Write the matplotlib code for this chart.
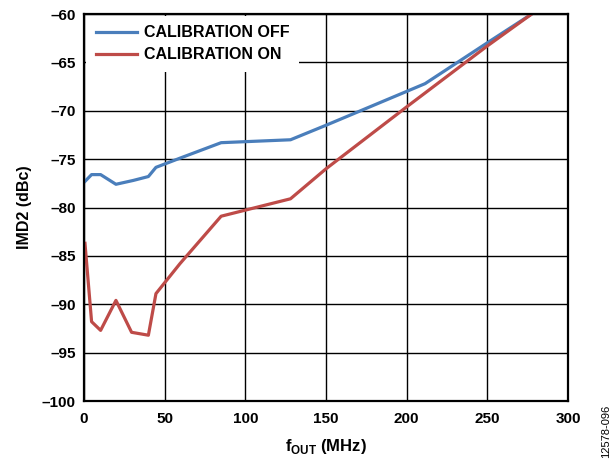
import matplotlib
matplotlib.use("Agg")
import matplotlib.pyplot as plt

plt.rcParams["font.family"] = ["Liberation Sans", "DejaVu Sans"]
plt.rcParams["mathtext.fontset"] = "custom"
plt.rcParams["mathtext.rm"] = "Liberation Sans:bold"
plt.rcParams["mathtext.bf"] = "Liberation Sans:bold"

# IMD2 vs output frequency
freq_off = [0.6, 4.7, 10.3, 19.8, 30.6, 39.9, 44.6, 59.5, 85, 128, 150, 200, 211.4, 250.7, 277.5]
imd2_off = [-77.3, -76.6, -76.6, -77.6, -77.2, -76.8, -75.85, -74.9, -73.3, -73.0, -71.5, -68.0, -67.2, -62.9, -60.0]

freq_on = [0.6, 4.7, 10.3, 19.8, 29.5, 39.9, 44.6, 59.5, 85, 128, 150, 200, 250, 277.5]
imd2_on = [-83.7, -91.8, -92.7, -89.6, -92.9, -93.2, -88.9, -85.8, -80.9, -79.1, -76.0, -69.6, -63.3, -60.0]

x_ticks = [0, 50, 100, 150, 200, 250, 300]
y_ticks = [-100, -95, -90, -85, -80, -75, -70, -65, -60]

blue = "#4a7ebb"
red = "#be4b48"

fig = plt.figure(figsize=(6.16, 4.59), dpi=100)
ax = fig.add_axes([84 / 616, 1 - 401 / 459, (568 - 84) / 616, (401 - 14) / 459])

ax.plot(freq_off, imd2_off, color=blue, linewidth=2.3, label="CALIBRATION OFF", zorder=3)
ax.plot(freq_on, imd2_on, color=red, linewidth=2.3, label="CALIBRATION ON", zorder=3)

ax.set_xlim(0, 300)
ax.set_ylim(-100, -60)
ax.set_xticks(x_ticks)
ax.set_yticks(y_ticks)
ax.set_xticklabels([str(v) for v in x_ticks], fontsize=11, fontweight="bold")
ax.set_yticklabels([str(v).replace("-", "\u2013") for v in y_ticks], fontsize=11, fontweight="bold")
ax.tick_params(axis="y", length=0, pad=6)
ax.tick_params(axis="x", length=0, pad=8)

ax.grid(True, color="black", linewidth=1.0)
ax.set_axisbelow(True)
for spine in ax.spines.values():
    spine.set_linewidth(1.6)
    spine.set_color("black")
    spine.set_zorder(6)

ax.set_xlabel(r"f$_\mathrm{OUT}$ (MHz)", fontsize=12, fontweight="bold", labelpad=8)
ax.set_ylabel("IMD2 (dBc)", fontsize=11.5, fontweight="bold", labelpad=7)

# legend box is white and hides the grid behind it
leg = ax.legend(loc="upper left", frameon=True, fancybox=False, fontsize=11.5,
                handlelength=2.6, handletextpad=0.45, borderaxespad=0.0,
                borderpad=0.6, labelspacing=0.45, bbox_to_anchor=(0.004, 0.996))
leg.get_frame().set_facecolor("white")
leg.get_frame().set_edgecolor("none")
leg.get_frame().set_alpha(1.0)
for t in leg.get_texts():
    t.set_fontweight("bold")

fig.text(606 / 616, 1 - 405 / 459, "12578-096", rotation=90, fontsize=8,
         ha="center", va="top")

fig.savefig("out.png", dpi=100, facecolor="white")
